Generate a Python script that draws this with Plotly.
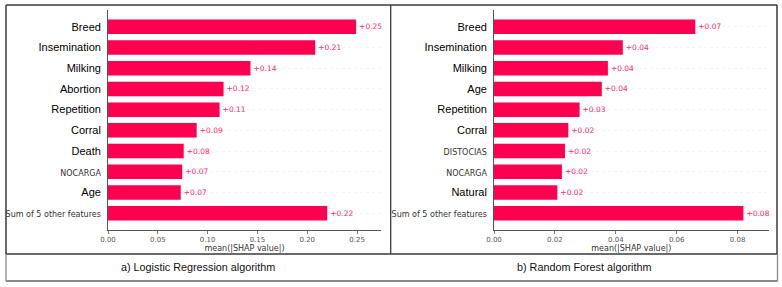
import plotly.graph_objects as go

# ---------------- data ----------------
lr_features = ["Breed", "Insemination", "Milking", "Abortion", "Repetition",
               "Corral", "Death", "NOCARGA", "Age", "Sum of 5 other features"]
lr_values = [0.249, 0.208, 0.143, 0.116, 0.112, 0.089, 0.076, 0.0745, 0.073, 0.220]

rf_features = ["Breed", "Insemination", "Milking", "Age", "Repetition",
               "Corral", "DISTOCIAS", "NOCARGA", "Natural", "Sum of 5 other features"]
rf_values = [0.0661, 0.0423, 0.0374, 0.0354, 0.0281, 0.0244, 0.0233, 0.0223, 0.0208, 0.0819]

lr_ticks = [0.0, 0.05, 0.10, 0.15, 0.20, 0.25]
rf_ticks = [0.0, 0.02, 0.04, 0.06, 0.08]

captions = ["a) Logistic Regression algorithm", "b) Random Forest algorithm"]
x_title = "mean(|SHAP value|)"
small_labels = {"NOCARGA", "DISTOCIAS", "Sum of 5 other features"}

# ---------------- style ----------------
W, H = 782, 287
RED = "#ff0051"
TXT_RED = "#ff2a6a"


def px_x(v):
    return v / W


def px_y(v):
    return 1 - v / H


def tick_label(name):
    if name in small_labels:
        return ("<span style=\"font-size:8px;font-family:'DejaVu Sans';color:#333333\">"
                + name + "</span>")
    return name


fig = go.Figure()

panels = [
    (lr_features, lr_values, lr_ticks, "x", "y", 0.274, (108, 381)),
    (rf_features, rf_values, rf_ticks, "x2", "y2", 0.0902, (494, 768.7)),
]

for feats, vals, ticks, xa, ya, xmax, dom in panels:
    fig.add_trace(go.Bar(
        x=vals, y=feats, orientation="h",
        marker=dict(color=RED, line=dict(width=0)),
        width=0.7,
        text=["+%.2f" % v for v in vals],
        textposition="outside",
        textfont=dict(family="DejaVu Sans", size=7.5, color=TXT_RED),
        constraintext="none",
        cliponaxis=False,
        xaxis=xa, yaxis=ya, showlegend=False,
    ))

y_dom = [px_y(230), px_y(10)]

for i, (feats, vals, ticks, xa, ya, xmax, dom) in enumerate(panels):
    suffix = "" if i == 0 else "2"
    fig.layout["xaxis" + suffix] = dict(
        domain=[px_x(dom[0]), px_x(dom[1])],
        range=[0, xmax],
        anchor=ya,
        automargin=False,
        tickvals=ticks,
        tickformat=".2f",
        ticks="outside", ticklen=3, tickwidth=0.8, tickcolor="#555555",
        tickfont=dict(family="DejaVu Sans", size=7, color="#555555"),
        showline=True, linecolor="#444444", linewidth=0.9,
        showgrid=False, zeroline=False,
        title=dict(text=x_title, standoff=1,
                   font=dict(family="DejaVu Sans", size=8, color="#333333")),
        fixedrange=True,
    )
    fig.layout["yaxis" + suffix] = dict(
        domain=y_dom,
        anchor=xa,
        automargin=False,
        type="category",
        categoryorder="array", categoryarray=feats,
        range=[len(feats) - 1 + 0.81, -0.81],
        tickvals=feats,
        ticktext=[tick_label(f) for f in feats],
        ticks="", ticklabelstandoff=4,
        tickfont=dict(family="Liberation Sans, Arial", size=11, color="#000000"),
        showline=True, linecolor="#444444", linewidth=0.9,
        showgrid=True, gridcolor="#ececec", gridwidth=0.6, griddash="dot",
        zeroline=False,
        fixedrange=True,
    )

# frame lines
DARK = "#3a3a3a"
GREY = "#8a8a8a"
shapes = [
    # top row box
    dict(x0=6, y0=5, x1=777, y1=5, c=DARK, w=1.5),
    dict(x0=6, y0=5, x1=6, y1=254, c=DARK, w=1.5),
    dict(x0=777, y0=5, x1=777, y1=254, c=DARK, w=1.5),
    dict(x0=6, y0=254, x1=777, y1=254, c=DARK, w=1.5),
    dict(x0=390.7, y0=5, x1=390.7, y1=254, c=DARK, w=1.3),
    # caption box
    dict(x0=6, y0=254, x1=6, y1=281, c=GREY, w=1.3),
    dict(x0=777.5, y0=254, x1=777.5, y1=281, c=GREY, w=1.3),
    dict(x0=6, y0=281, x1=777.5, y1=281, c=GREY, w=1.8),
]
for s in shapes:
    fig.add_shape(type="line", xref="paper", yref="paper",
                  x0=px_x(s["x0"]), x1=px_x(s["x1"]),
                  y0=px_y(s["y0"]), y1=px_y(s["y1"]),
                  line=dict(color=s["c"], width=s["w"]), layer="above")

for cap, cx in zip(captions, [198, 583.5]):
    fig.add_annotation(text=cap, xref="paper", yref="paper",
                       x=px_x(cx), y=px_y(267), showarrow=False,
                       xanchor="center", yanchor="middle",
                       font=dict(family="Liberation Sans, Arial", size=10.8, color="#111111"))

fig.update_layout(
    width=W, height=H, autosize=False,
    margin=dict(l=0, r=0, t=0, b=0, autoexpand=False),
    paper_bgcolor="white", plot_bgcolor="white",
    bargap=0.3,
)

fig.write_html("out.html",
               config={"displayModeBar": False, "staticPlot": True},
               post_script="document.body.style.margin='0';document.body.style.overflow='hidden';")
